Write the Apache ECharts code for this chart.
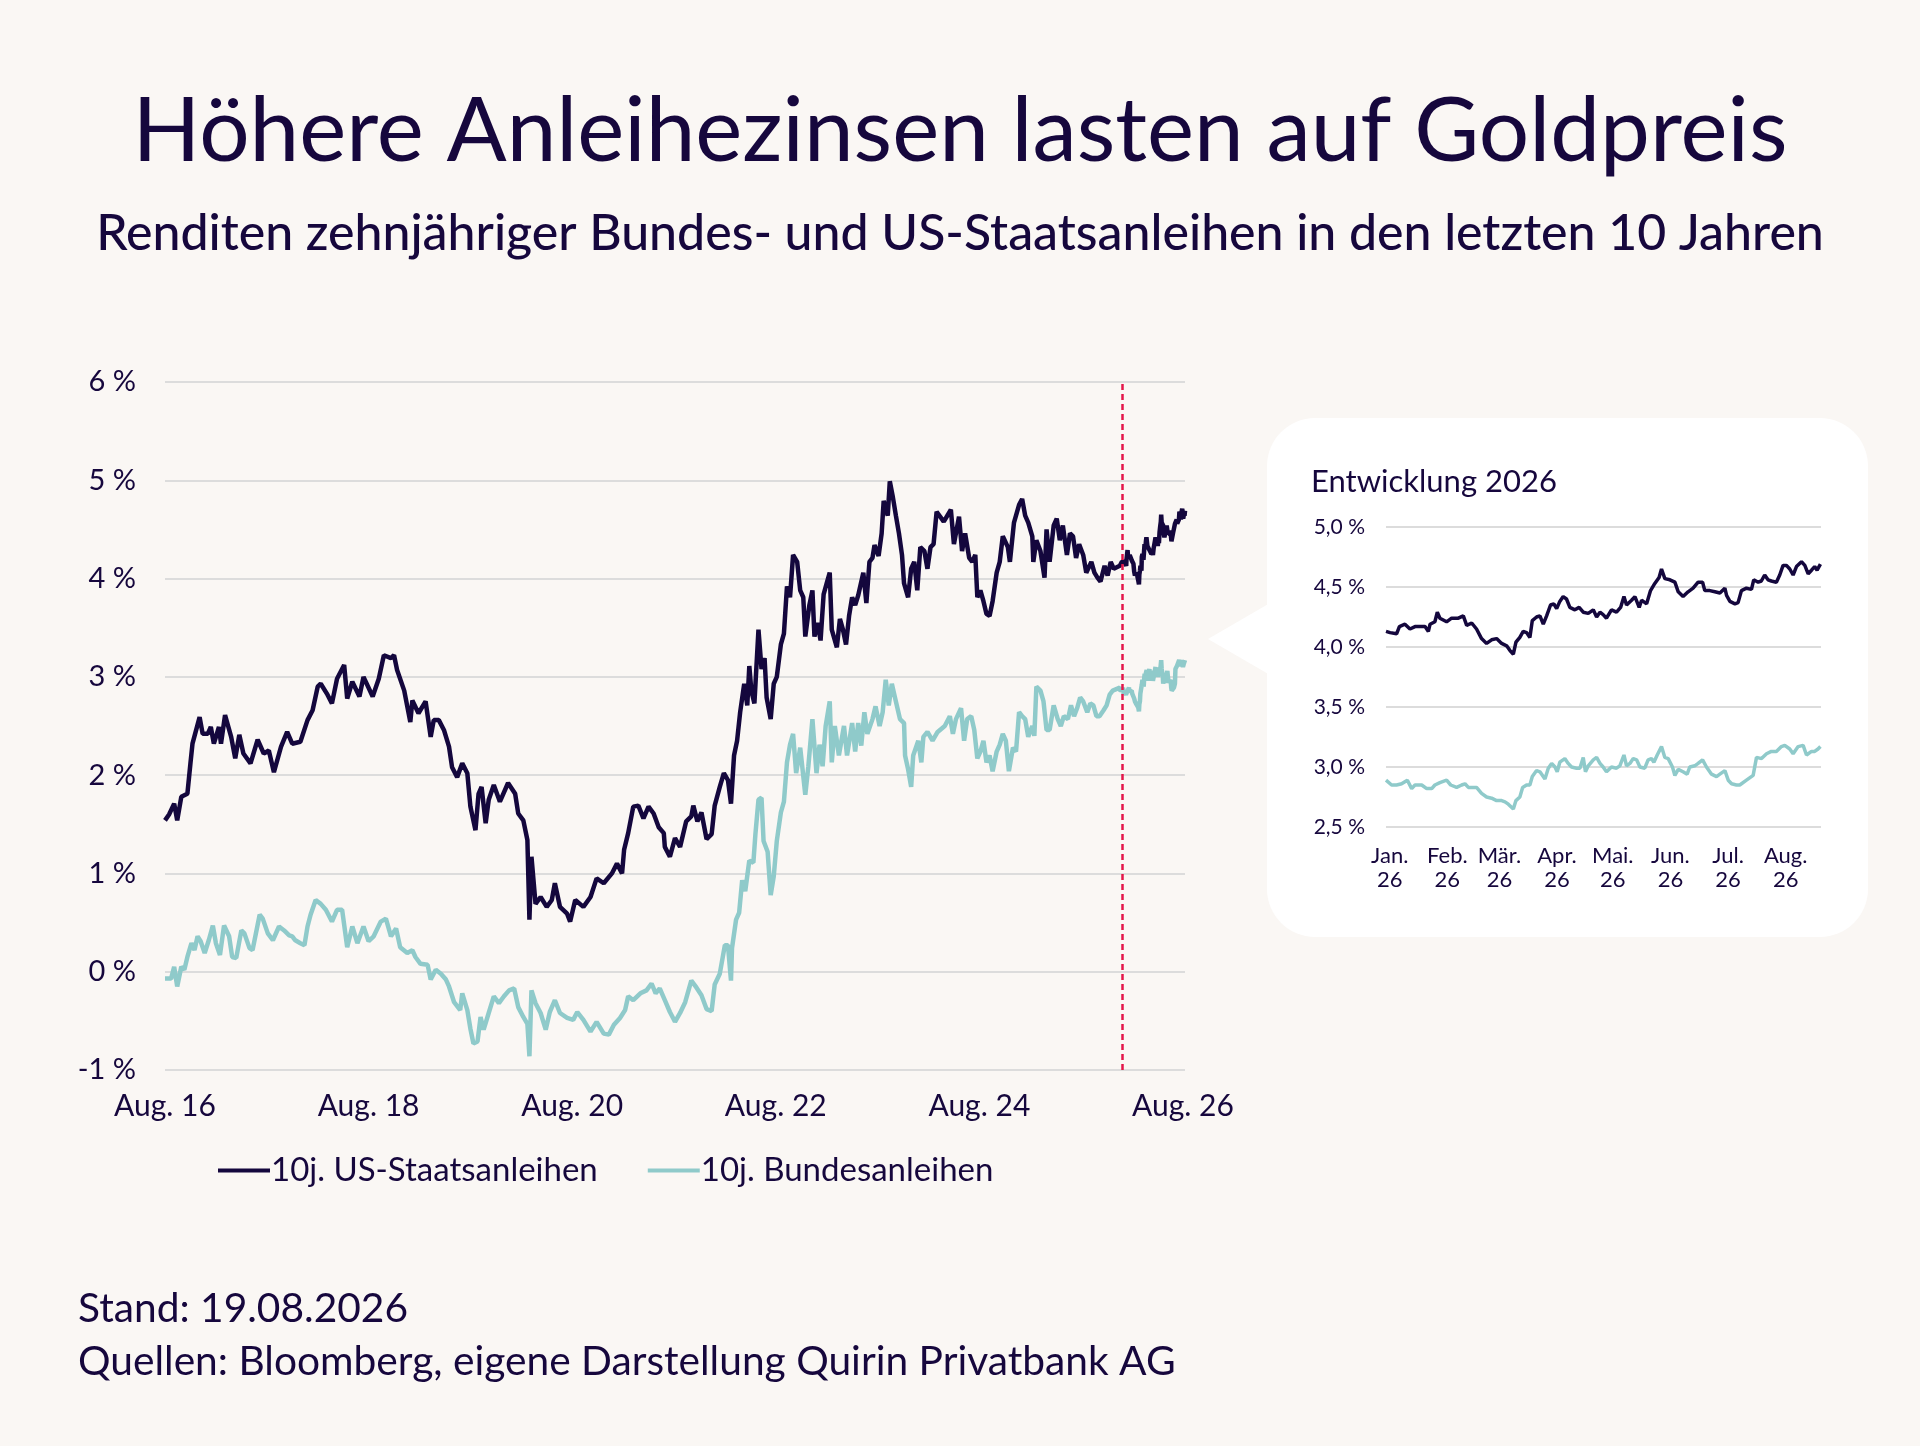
<!DOCTYPE html>
<html>
<head>
<meta charset="utf-8">
<script src="https://cdn.jsdelivr.net/npm/echarts@6/dist/echarts.min.js"></script>
<style>
html,body{margin:0;padding:0;background:#faf7f4;}
#chart{width:1920px;height:1446px;}
</style>
</head>
<body>
<div id="chart"></div>
<script>
// ---- Text ----
var titleText = 'Höhere Anleihezinsen lasten auf Goldpreis';
var subtitleText = 'Renditen zehnjähriger Bundes- und US-Staatsanleihen in den letzten 10 Jahren';
var footerStand = 'Stand: 19.08.2026';
var footerSource = 'Quellen: Bloomberg, eigene Darstellung Quirin Privatbank AG';
var insetTitle = 'Entwicklung 2026';
var seriesNames = ['10j. US-Staatsanleihen', '10j. Bundesanleihen'];

// ---- Main chart ticks (decimal years) ----
var mainTickPos = [2016.62, 2018.62, 2020.62, 2022.62, 2024.62, 2026.62];
var mainTickLabels = ['Aug. 16', 'Aug. 18', 'Aug. 20', 'Aug. 22', 'Aug. 24', 'Aug. 26'];
var mainXRange = [2016.62, 2026.64];
var markerYear = 2026.02;

// ---- Inset ticks (day of year 2026) ----
var insetTickPos = [2, 33, 61, 92, 122, 153, 184, 215];
var insetTickLabels = ['Jan.\n26', 'Feb.\n26', 'Mär.\n26', 'Apr.\n26', 'Mai.\n26', 'Jun.\n26', 'Jul.\n26', 'Aug.\n26'];
var insetXRange = [0, 234];

// ---- US 10y yields 2016-2025, [decimal year, %] ----
var usHist = [
[2016.62,1.54],[2016.66,1.60],[2016.71,1.71],[2016.74,1.54],[2016.78,1.78],[2016.84,1.81],[2016.87,2.12],[2016.89,2.32],[2016.96,2.59],[2016.99,2.42],
[2017.04,2.42],[2017.07,2.49],[2017.10,2.32],[2017.15,2.49],[2017.17,2.32],[2017.21,2.61],[2017.27,2.39],[2017.31,2.17],[2017.35,2.41],[2017.39,2.22],[2017.46,2.12],[2017.53,2.36],[2017.59,2.22],[2017.64,2.25],[2017.69,2.03],[2017.76,2.29],[2017.82,2.44],[2017.87,2.32],[2017.95,2.34],
[2018.02,2.56],[2018.07,2.66],[2018.12,2.90],[2018.15,2.93],[2018.21,2.83],[2018.26,2.73],[2018.31,2.98],[2018.38,3.12],[2018.41,2.78],[2018.46,2.95],[2018.53,2.80],[2018.57,3.00],[2018.66,2.80],[2018.72,2.98],[2018.77,3.22],[2018.84,3.19],[2018.87,3.22],[2018.90,3.07],[2018.97,2.86],
[2019.03,2.54],[2019.05,2.76],[2019.11,2.63],[2019.18,2.75],[2019.23,2.39],[2019.26,2.56],[2019.31,2.56],[2019.36,2.46],[2019.41,2.29],[2019.44,2.08],[2019.49,1.98],[2019.54,2.12],[2019.59,2.02],[2019.62,1.68],[2019.67,1.44],[2019.70,1.81],[2019.73,1.88],[2019.77,1.51],[2019.80,1.75],[2019.85,1.90],[2019.91,1.73],[2019.99,1.92],
[2020.06,1.81],[2020.09,1.61],[2020.14,1.54],[2020.18,1.34],[2020.20,0.53],[2020.22,1.17],[2020.26,0.69],[2020.31,0.76],[2020.37,0.66],[2020.42,0.73],[2020.45,0.90],[2020.50,0.66],[2020.57,0.59],[2020.60,0.51],[2020.65,0.73],[2020.73,0.66],[2020.80,0.76],[2020.86,0.95],[2020.93,0.90],
[2021.01,1.00],[2021.06,1.10],[2021.11,1.00],[2021.13,1.24],[2021.17,1.41],[2021.22,1.68],[2021.27,1.69],[2021.32,1.56],[2021.37,1.68],[2021.42,1.61],[2021.47,1.47],[2021.52,1.41],[2021.53,1.27],[2021.58,1.17],[2021.63,1.36],[2021.68,1.27],[2021.74,1.53],[2021.79,1.58],[2021.81,1.69],[2021.85,1.53],[2021.89,1.62],[2021.94,1.35],[2021.99,1.40],
[2022.02,1.69],[2022.07,1.88],[2022.11,2.02],[2022.15,1.95],[2022.18,1.71],[2022.21,2.20],[2022.24,2.35],[2022.27,2.64],[2022.31,2.93],[2022.34,2.71],[2022.36,3.11],[2022.38,2.86],[2022.41,2.73],[2022.45,3.48],[2022.48,3.08],[2022.51,3.19],[2022.53,2.79],[2022.57,2.57],[2022.60,2.93],[2022.63,3.00],[2022.67,3.33],[2022.70,3.44],[2022.73,3.92],[2022.76,3.81],[2022.79,4.24],[2022.83,4.17],[2022.86,3.88],[2022.89,3.81],[2022.91,3.41],[2022.95,3.73],[2022.98,3.88],
[2023.00,3.41],[2023.03,3.55],[2023.06,3.37],[2023.09,3.84],[2023.12,3.95],[2023.15,4.06],[2023.17,3.48],[2023.22,3.30],[2023.25,3.59],[2023.28,3.48],[2023.31,3.33],[2023.34,3.62],[2023.37,3.81],[2023.40,3.73],[2023.43,3.83],[2023.48,4.06],[2023.51,3.75],[2023.54,4.17],[2023.57,4.21],[2023.59,4.34],[2023.63,4.23],[2023.66,4.46],[2023.68,4.79],[2023.72,4.64],[2023.74,4.99],[2023.77,4.83],[2023.80,4.64],[2023.83,4.46],[2023.86,4.24],[2023.88,3.95],[2023.92,3.81],[2023.95,4.10],[2023.98,4.17],
[2024.01,3.88],[2024.04,4.32],[2024.08,4.28],[2024.11,4.10],[2024.14,4.32],[2024.17,4.35],[2024.20,4.68],[2024.27,4.58],[2024.34,4.70],[2024.37,4.35],[2024.42,4.63],[2024.45,4.28],[2024.48,4.46],[2024.52,4.21],[2024.55,4.17],[2024.58,4.24],[2024.60,3.81],[2024.63,3.88],[2024.66,3.77],[2024.69,3.64],[2024.72,3.62],[2024.75,3.77],[2024.79,4.06],[2024.82,4.17],[2024.85,4.43],[2024.90,4.32],[2024.92,4.17],[2024.96,4.57],
[2025.01,4.75],[2025.04,4.81],[2025.07,4.64],[2025.10,4.57],[2025.14,4.43],[2025.15,4.17],[2025.18,4.39],[2025.22,4.28],[2025.26,4.01],[2025.28,4.50],[2025.31,4.17],[2025.35,4.54],[2025.38,4.61],[2025.41,4.39],[2025.44,4.54],[2025.48,4.24],[2025.51,4.46],[2025.54,4.43],[2025.57,4.21],[2025.60,4.35],[2025.64,4.24],[2025.67,4.06],[2025.72,4.17],[2025.75,4.06],[2025.78,4.01],[2025.81,3.97],[2025.85,4.13],[2025.88,4.03],[2025.91,4.17],[2025.94,4.10]
];

// ---- German Bund 10y yields 2016-2025, [decimal year, %] ----
var bundHist = [
[2016.62,-0.07],[2016.68,-0.07],[2016.71,0.05],[2016.74,-0.15],[2016.78,0.05],[2016.81,0.02],[2016.84,0.15],[2016.88,0.29],[2016.91,0.22],[2016.94,0.36],[2016.97,0.31],
[2017.01,0.19],[2017.05,0.32],[2017.09,0.47],[2017.12,0.29],[2017.16,0.17],[2017.20,0.47],[2017.25,0.36],[2017.28,0.15],[2017.32,0.14],[2017.37,0.42],[2017.40,0.39],[2017.45,0.24],[2017.48,0.22],[2017.55,0.58],[2017.58,0.54],[2017.63,0.39],[2017.68,0.32],[2017.74,0.46],[2017.79,0.42],[2017.84,0.37],[2017.87,0.36],[2017.90,0.32],[2017.95,0.29],[2017.99,0.27],
[2018.02,0.46],[2018.05,0.58],[2018.10,0.73],[2018.15,0.69],[2018.20,0.63],[2018.26,0.51],[2018.31,0.63],[2018.36,0.63],[2018.41,0.25],[2018.46,0.46],[2018.51,0.29],[2018.57,0.46],[2018.62,0.31],[2018.67,0.36],[2018.74,0.51],[2018.79,0.54],[2018.84,0.36],[2018.89,0.44],[2018.93,0.25],
[2019.00,0.19],[2019.05,0.22],[2019.08,0.15],[2019.13,0.08],[2019.20,0.07],[2019.23,-0.08],[2019.28,0.02],[2019.33,-0.02],[2019.38,-0.08],[2019.41,-0.15],[2019.46,-0.31],[2019.52,-0.39],[2019.54,-0.22],[2019.59,-0.39],[2019.62,-0.58],[2019.65,-0.73],[2019.69,-0.71],[2019.72,-0.46],[2019.75,-0.59],[2019.80,-0.42],[2019.85,-0.25],[2019.90,-0.32],[2019.95,-0.25],
[2020.00,-0.19],[2020.05,-0.17],[2020.09,-0.36],[2020.14,-0.46],[2020.18,-0.53],[2020.20,-0.86],[2020.22,-0.19],[2020.26,-0.32],[2020.31,-0.42],[2020.36,-0.59],[2020.40,-0.41],[2020.45,-0.29],[2020.50,-0.42],[2020.57,-0.47],[2020.63,-0.49],[2020.67,-0.41],[2020.73,-0.49],[2020.80,-0.61],[2020.86,-0.51],[2020.93,-0.63],[2020.98,-0.64],
[2021.03,-0.54],[2021.09,-0.47],[2021.14,-0.39],[2021.17,-0.25],[2021.22,-0.29],[2021.29,-0.22],[2021.35,-0.19],[2021.40,-0.12],[2021.44,-0.22],[2021.48,-0.17],[2021.53,-0.29],[2021.58,-0.41],[2021.63,-0.51],[2021.68,-0.42],[2021.73,-0.31],[2021.79,-0.09],[2021.84,-0.16],[2021.89,-0.24],[2021.94,-0.38],[2021.99,-0.40],
[2022.02,-0.13],[2022.07,-0.02],[2022.12,0.27],[2022.15,0.27],[2022.18,-0.09],[2022.19,0.24],[2022.23,0.53],[2022.26,0.60],[2022.29,0.93],[2022.32,0.82],[2022.36,1.13],[2022.40,1.11],[2022.42,1.40],[2022.45,1.75],[2022.48,1.77],[2022.50,1.33],[2022.54,1.22],[2022.57,0.78],[2022.60,0.97],[2022.63,1.33],[2022.67,1.62],[2022.70,1.73],[2022.73,2.13],[2022.76,2.31],[2022.79,2.42],[2022.82,2.02],[2022.86,2.28],[2022.91,1.80],[2022.94,2.09],[2022.98,2.57],
[2023.02,2.02],[2023.05,2.31],[2023.08,2.09],[2023.11,2.50],[2023.15,2.75],[2023.17,2.13],[2023.20,2.50],[2023.24,2.20],[2023.29,2.50],[2023.32,2.20],[2023.37,2.53],[2023.40,2.24],[2023.43,2.53],[2023.46,2.30],[2023.49,2.64],[2023.52,2.42],[2023.57,2.57],[2023.60,2.70],[2023.64,2.50],[2023.67,2.64],[2023.70,2.97],[2023.73,2.71],[2023.76,2.93],[2023.80,2.75],[2023.84,2.57],[2023.88,2.53],[2023.89,2.20],[2023.92,2.06],[2023.95,1.88],[2023.97,2.20],
[2024.02,2.35],[2024.05,2.13],[2024.07,2.39],[2024.11,2.44],[2024.16,2.35],[2024.21,2.44],[2024.28,2.50],[2024.33,2.60],[2024.36,2.42],[2024.39,2.57],[2024.44,2.68],[2024.47,2.35],[2024.50,2.57],[2024.54,2.60],[2024.57,2.46],[2024.60,2.17],[2024.63,2.24],[2024.66,2.35],[2024.69,2.13],[2024.72,2.20],[2024.75,2.04],[2024.79,2.24],[2024.82,2.31],[2024.85,2.42],[2024.88,2.35],[2024.91,2.04],[2024.95,2.28],[2024.98,2.24],
[2025.01,2.64],[2025.04,2.60],[2025.07,2.57],[2025.10,2.39],[2025.14,2.50],[2025.16,2.40],[2025.18,2.90],[2025.22,2.86],[2025.25,2.75],[2025.28,2.46],[2025.31,2.46],[2025.35,2.71],[2025.39,2.57],[2025.42,2.50],[2025.45,2.60],[2025.49,2.57],[2025.52,2.71],[2025.55,2.60],[2025.58,2.68],[2025.61,2.79],[2025.64,2.75],[2025.68,2.64],[2025.71,2.73],[2025.74,2.71],[2025.77,2.60],[2025.80,2.60],[2025.84,2.66],[2025.87,2.71],[2025.90,2.82],[2025.93,2.86]
];

// ---- 2026 (inset), [day of year, %] ----
var us2026 = [
[0,4.13],[2.2,4.12],[5.7,4.11],[7.2,4.17],[10.2,4.19],[12.9,4.15],[15.6,4.17],[18.3,4.17],[21,4.17],[22.8,4.13],[23.7,4.19],[26.3,4.21],[27.6,4.29],[29,4.24],[32.6,4.21],[35.3,4.24],[38.9,4.24],[41.6,4.26],[43.4,4.18],[46.1,4.20],[48.7,4.15],[51.4,4.07],[54.1,4.03],[56.8,4.06],[59.5,4.07],[62.2,4.03],[64.9,4.01],[66.7,3.97],[68.5,3.94],[69.9,4.04],[72,4.08],[73.8,4.13],[75.6,4.12],[77.4,4.08],[78.7,4.22],[81,4.25],[82.8,4.26],[84.6,4.19],[86.4,4.26],[88.5,4.35],[90.3,4.36],[91.8,4.32],[93.5,4.38],[95.3,4.42],[97.1,4.40],[98.9,4.33],[101.6,4.31],[103.9,4.33],[106.1,4.29],[108.8,4.28],[111.5,4.31],[113.3,4.25],[115.1,4.29],[116.8,4.27],[118.6,4.24],[121.3,4.31],[124,4.29],[126.2,4.33],[128,4.42],[129.4,4.35],[132.1,4.39],[133.9,4.42],[136.2,4.33],[137.5,4.39],[140.2,4.36],[142.3,4.47],[144.6,4.53],[146.9,4.58],[148.2,4.65],[150,4.57],[152.7,4.56],[155.4,4.54],[157.2,4.46],[159.8,4.42],[162.5,4.46],[165.2,4.49],[167.9,4.54],[170.3,4.54],[171.5,4.47],[174.2,4.47],[176.9,4.46],[179.6,4.45],[182.3,4.49],[183.2,4.43],[185,4.38],[187.7,4.36],[189.4,4.37],[191.2,4.47],[193.9,4.49],[196.6,4.48],[197.8,4.56],[200.2,4.54],[201.9,4.55],[203.7,4.60],[205.5,4.56],[207.3,4.55],[210,4.54],[211.8,4.60],[213.6,4.68],[215.4,4.68],[217.2,4.65],[219,4.60],[220.8,4.67],[223.5,4.71],[225.3,4.68],[227.1,4.61],[228.9,4.64],[230.6,4.67],[231.9,4.64],[233.7,4.69]
];
var bund2026 = [
[0,2.89],[3,2.85],[5.7,2.85],[8.4,2.86],[11.5,2.89],[13.8,2.82],[15.6,2.85],[19.2,2.85],[21.9,2.82],[24.6,2.82],[26.3,2.85],[29,2.87],[32.6,2.89],[34.8,2.85],[38,2.83],[40.7,2.85],[42.5,2.86],[44.3,2.83],[48.7,2.83],[51.4,2.78],[54.1,2.75],[56.8,2.74],[59.5,2.72],[62.2,2.72],[64,2.71],[65.8,2.69],[68.5,2.65],[69.9,2.72],[72,2.75],[73.5,2.83],[75.6,2.85],[77.4,2.85],[78.7,2.92],[81,2.97],[82.8,2.96],[85.5,2.90],[87.3,2.99],[89.1,3.03],[90.9,3.00],[92.1,2.96],[93.5,3.04],[96.2,3.07],[98,3.03],[99.8,3.00],[102.5,2.99],[104.3,2.99],[106.1,3.08],[107.3,2.96],[108.8,3.01],[111.5,3.06],[113.3,3.08],[115.1,3.03],[116.8,3.00],[118.6,2.96],[121.3,3.00],[124,2.99],[125.8,3.01],[128,3.10],[129.4,3.01],[131.2,3.03],[133,3.07],[134.8,3.06],[136.6,3.00],[139.2,2.99],[141,3.06],[142.8,3.07],[144.1,3.04],[145.9,3.10],[148.2,3.17],[150,3.08],[151.8,3.07],[154.1,3.00],[155.4,2.93],[157.2,2.98],[159.8,2.96],[162,2.94],[163.4,3.00],[166.1,3.01],[167.9,3.03],[170.3,3.06],[172.4,3.00],[175.1,2.94],[177.8,2.92],[179.6,2.94],[182.3,2.97],[184.1,2.89],[185.9,2.86],[188.5,2.85],[190.3,2.85],[193.9,2.89],[197.5,2.93],[199.3,3.08],[202,3.07],[204.7,3.11],[207.3,3.13],[210,3.13],[212.7,3.17],[214.5,3.18],[217.2,3.15],[219,3.11],[221.7,3.17],[224.4,3.18],[226.2,3.10],[228.9,3.13],[230.6,3.13],[232.4,3.15],[233.7,3.17]
];

// ---- Styling ----
var TXT = '#16073d';
var US_COLOR = '#14073d';
var BUND_COLOR = '#8fcaca';
var GRID_COLOR = '#dcdcdc';
var FONT = 'Lato, "Noto Sans", sans-serif';

function to2026Year(d) { return [2026 + d[0] / 365, d[1]]; }
var usMain = usHist.concat(us2026.map(to2026Year));
var bundMain = bundHist.concat(bund2026.map(to2026Year));

function nearestLabel(pos, labels, v) {
  var best = 0, bd = Infinity;
  for (var i = 0; i < pos.length; i++) {
    var d = Math.abs(pos[i] - v);
    if (d < bd) { bd = d; best = i; }
  }
  return labels[best];
}

var chart = echarts.init(document.getElementById('chart'), null, {renderer: 'canvas'});

var option = {
  backgroundColor: '#faf7f4',
  animation: false,
  textStyle: {fontFamily: FONT, color: TXT},
  title: [
    {text: titleText, left: 'center', top: 83,
     textStyle: {fontSize: 89, fontWeight: 400, color: TXT, fontFamily: FONT, lineHeight: 89}},
    {text: subtitleText, left: 'center', top: 204,
     textStyle: {fontSize: 50, fontWeight: 500, color: TXT, fontFamily: FONT, lineHeight: 50}},
    {text: footerStand, left: 73, top: 1283,
     textStyle: {fontSize: 40.7, fontWeight: 400, color: TXT, fontFamily: FONT, lineHeight: 41}},
    {text: footerSource, left: 73, top: 1336,
     textStyle: {fontSize: 40.7, fontWeight: 400, color: TXT, fontFamily: FONT, lineHeight: 41}},
    {text: insetTitle, left: 1306, top: 461, z: 5,
     textStyle: {fontSize: 31, fontWeight: 400, color: TXT, fontFamily: FONT, lineHeight: 31}}
  ],
  graphic: [
    {type: 'rect', z: -10, silent: true,
     shape: {x: 1267, y: 418, width: 601, height: 519, r: 48},
     style: {fill: '#ffffff'}},
    {type: 'polygon', z: -10, silent: true,
     shape: {points: [[1208, 639], [1270, 603], [1270, 675]]},
     style: {fill: '#ffffff'}}
  ],
  legend: {
    left: 213, top: 1149,
    icon: 'rect', itemWidth: 52, itemHeight: 4, itemGap: 50,
    data: seriesNames,
    textStyle: {fontSize: 33, color: TXT, fontFamily: FONT, padding: [0, 0, 0, -4]}
  },
  grid: [
    {left: 165, top: 382, width: 1020, height: 688, containLabel: false},
    {left: 1386, top: 527, width: 435, height: 300, containLabel: false}
  ],
  xAxis: [
    {type: 'value', gridIndex: 0, min: mainXRange[0], max: mainXRange[1],
     axisLine: {show: false}, axisTick: {show: false}, splitLine: {show: false},
     axisLabel: {customValues: mainTickPos, margin: 21, fontSize: 30, color: TXT, fontFamily: FONT,
       formatter: function (v) { return nearestLabel(mainTickPos, mainTickLabels, v); }}},
    {type: 'value', gridIndex: 1, min: insetXRange[0], max: insetXRange[1],
     axisLine: {show: false}, axisTick: {show: false}, splitLine: {show: false},
     axisLabel: {customValues: insetTickPos, margin: 17, fontSize: 22, lineHeight: 24, color: TXT, fontFamily: FONT,
       formatter: function (v) { return nearestLabel(insetTickPos, insetTickLabels, v); }}}
  ],
  yAxis: [
    {type: 'value', gridIndex: 0, min: -1, max: 6, interval: 1,
     axisLine: {show: false}, axisTick: {show: false},
     splitLine: {show: true, lineStyle: {color: GRID_COLOR, width: 2}},
     axisLabel: {margin: 29, fontSize: 29, color: TXT, fontFamily: FONT,
       formatter: function (v) { return v + ' %'; }}},
    {type: 'value', gridIndex: 1, min: 2.5, max: 5.0, interval: 0.5,
     axisLine: {show: false}, axisTick: {show: false},
     splitLine: {show: true, lineStyle: {color: GRID_COLOR, width: 2}},
     axisLabel: {margin: 21, fontSize: 21, color: TXT, fontFamily: FONT,
       formatter: function (v) { return v.toFixed(1).replace('.', ',') + ' %'; }}}
  ],
  series: [
    {name: seriesNames[1], type: 'line', xAxisIndex: 0, yAxisIndex: 0, data: bundMain,
     showSymbol: false, color: BUND_COLOR, lineStyle: {width: 4.5, color: BUND_COLOR}, z: 3},
    {name: seriesNames[0], type: 'line', xAxisIndex: 0, yAxisIndex: 0, data: usMain,
     showSymbol: false, color: US_COLOR, lineStyle: {width: 4.5, color: US_COLOR}, z: 4,
     markLine: {symbol: 'none', silent: true, label: {show: false},
       lineStyle: {color: '#e3174a', type: [6, 4], width: 2.5},
       data: [{xAxis: markerYear}]}},
    {name: seriesNames[0], type: 'line', xAxisIndex: 1, yAxisIndex: 1, data: us2026,
     showSymbol: false, color: US_COLOR, lineStyle: {width: 3.5, color: US_COLOR}, z: 4},
    {name: seriesNames[1], type: 'line', xAxisIndex: 1, yAxisIndex: 1, data: bund2026,
     showSymbol: false, color: BUND_COLOR, lineStyle: {width: 3.5, color: BUND_COLOR}, z: 3}
  ]
};
chart.setOption(option);
</script>
</body>
</html>
